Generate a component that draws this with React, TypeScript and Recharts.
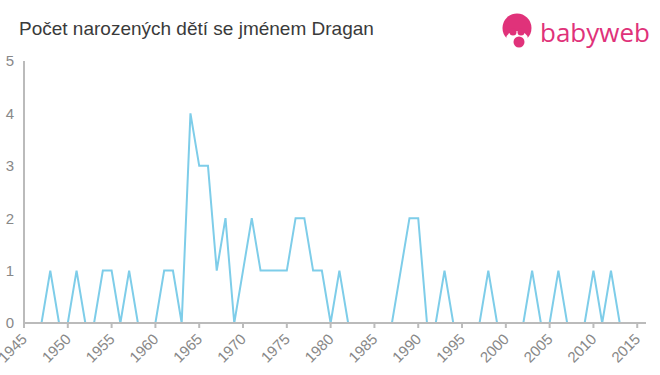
import { LineChart, Line, XAxis, YAxis } from 'recharts';

const years = [
  1945, 1946, 1947, 1948, 1949, 1950, 1951, 1952, 1953, 1954, 1955, 1956,
  1957, 1958, 1959, 1960, 1961, 1962, 1963, 1964, 1965, 1966, 1967, 1968,
  1969, 1970, 1971, 1972, 1973, 1974, 1975, 1976, 1977, 1978, 1979, 1980,
  1981, 1982, 1983, 1984, 1985, 1986, 1987, 1988, 1989, 1990, 1991, 1992,
  1993, 1994, 1995, 1996, 1997, 1998, 1999, 2000, 2001, 2002, 2003, 2004,
  2005, 2006, 2007, 2008, 2009, 2010, 2011, 2012, 2013, 2014, 2015, 2016,
];

const births = [
  0, 0, 0, 1, 0, 0, 1, 0, 0, 1, 1, 0,
  1, 0, 0, 0, 1, 1, 0, 4, 3, 3, 1, 2,
  0, 1, 2, 1, 1, 1, 1, 2, 2, 1, 1, 0,
  1, 0, 0, 0, 0, 0, 0, 1, 2, 2, 0, 0,
  1, 0, 0, 0, 0, 1, 0, 0, 0, 0, 1, 0,
  0, 1, 0, 0, 0, 1, 0, 1, 0, 0, 0, 0,
];

const xTicks = [1945, 1950, 1955, 1960, 1965, 1970, 1975, 1980, 1985, 1990, 1995, 2000, 2005, 2010, 2015];
const yTicks = [0, 1, 2, 3, 4, 5];

const data = years.map((year, i) => ({ year, count: births[i] }));

const FONT = '"Liberation Sans", Arial, sans-serif';
const PINK = '#e0327a';

// rotated year labels, anchored at their end just right of / below the tick
function YearTick({ x, y, payload }: any) {
  const px = x + 4;
  const py = y + 10;
  return (
    <text
      x={px}
      y={py}
      textAnchor='end'
      fill='#888888'
      fontSize={15}
      fontFamily={FONT}
      transform={`rotate(-45, ${px}, ${py})`}
    >
      {payload.value}
    </text>
  );
}

export default function App() {
  return (
    <div style={{ position: 'fixed', left: 0, top: 0, width: 660, height: 375, background: '#fff' }}>
      <div
        style={{
          position: 'absolute',
          left: 19,
          top: 18,
          fontFamily: FONT,
          fontSize: 19,
          color: '#3a3a3a',
          whiteSpace: 'nowrap',
        }}
      >
        Počet narozených dětí se jménem Dragan
      </div>
      <svg width={160} height={50} style={{ position: 'absolute', left: 500, top: 4 }}>
        {/* head */}
        <circle cx={17} cy={24} r={14.5} fill={PINK} />
        <ellipse cx={17} cy={35} rx={11} ry={8} fill='#fff' />
        <circle cx={13} cy={28} r={3.5} fill={PINK} />
        <circle cx={21} cy={28} r={3.5} fill={PINK} />
        <circle cx={19} cy={38} r={5.5} fill={PINK} />
        <text x={40} y={38} fill={PINK} fontSize={26} fontFamily='"Open Sans", sans-serif' fontWeight={500}>
          babyweb
        </text>
      </svg>
      <LineChart
        width={660}
        height={375}
        data={data}
        margin={{ top: 61, right: 14, bottom: 0, left: 0 }}
        style={{ position: 'absolute', left: 0, top: 0 }}
      >
        <XAxis
          dataKey='year'
          type='number'
          domain={[1945, 2016]}
          ticks={xTicks}
          interval={0}
          height={52}
          stroke='#bbbbbb'
          strokeWidth={2}
          tickSize={5}
          tick={<YearTick />}
        />
        <YAxis
          domain={[0, 5]}
          ticks={yTicks}
          width={24}
          stroke='#bbbbbb'
          strokeWidth={2}
          tickLine={false}
          tickSize={6}
          tickMargin={4}
          tick={{ fill: '#888888', fontSize: 15, fontFamily: FONT }}
        />
        <Line
          type='linear'
          dataKey='count'
          stroke='#7ecde9'
          strokeWidth={2}
          dot={false}
          isAnimationActive={false}
        />
      </LineChart>
    </div>
  );
}
